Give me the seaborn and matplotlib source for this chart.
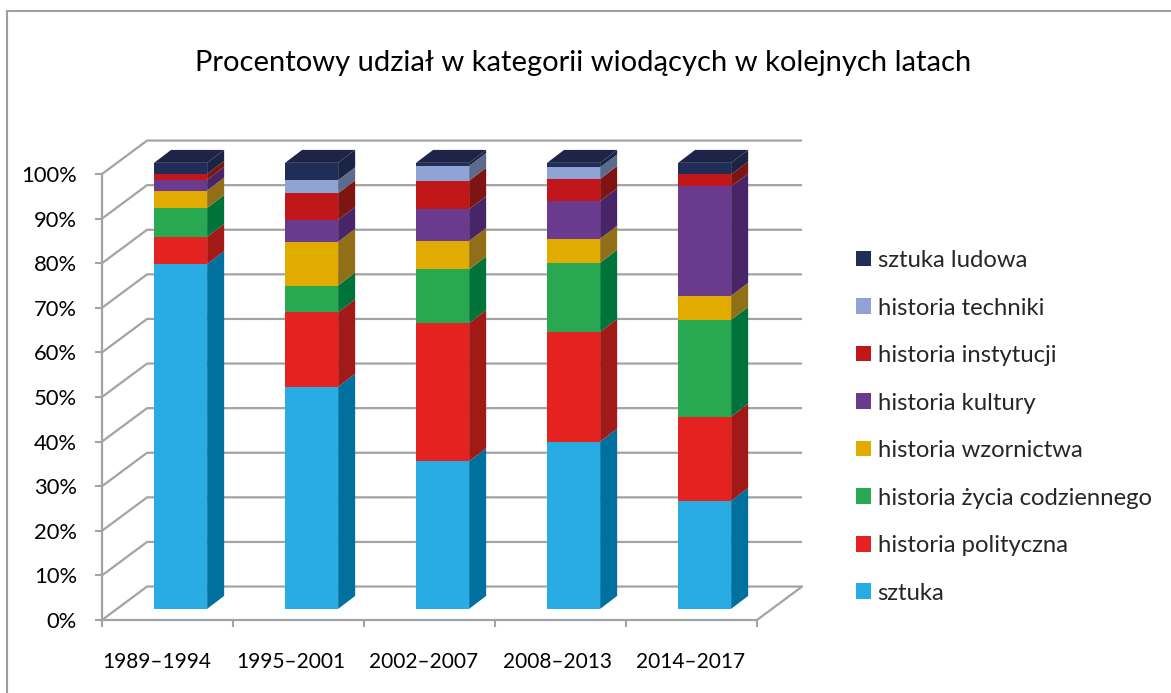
#### Import packages
import numpy as np
import pandas as pd
import matplotlib.pyplot as plt
from matplotlib.patches import Patch, Rectangle
import seaborn as sns

#### Data: share of leading categories (%) per period
periods = ['1989–1994', '1995–2001', '2002–2007', '2008–2013', '2014–2017']
categories = ['sztuka', 'historia polityczna', 'historia życia codziennego', 'historia wzornictwa',
              'historia kultury', 'historia instytucji', 'historia techniki', 'sztuka ludowa']
sztuka = [77.3, 49.8, 33.1, 37.5, 24.2]
polityczna = [6.1, 16.7, 31.0, 24.6, 18.9]
zycie_codzienne = [6.5, 6.0, 12.0, 15.5, 21.7]
wzornictwo = [3.9, 9.8, 6.4, 5.4, 5.4]
kultura = [2.4, 4.9, 7.1, 8.4, 24.5]
instytucje = [1.3, 6.0, 6.4, 5.0, 2.7]
technika = [0.0, 2.9, 3.3, 2.6, 0.0]
ludowa = [2.5, 3.9, 0.7, 1.0, 2.6]
ytick_values = [0, 10, 20, 30, 40, 50, 60, 70, 80, 90, 100]
ytick_labels = ['0%', '10%', '20%', '30%', '40%', '50%', '60%', '70%', '80%', '90%', '100%']
title = 'Procentowy udział w kategorii wiodących w kolejnych latach'

#### Colours (front face, side face, top face)
front_colors = ['#29ACE3', '#E42320', '#27A851', '#E2AB00', '#6A3A8E', '#C1161A', '#8FA3D4', '#202D57']
side_colors = ['#00719F', '#A21A17', '#00733A', '#906F17', '#472566', '#7F1512', '#5A6B8C', '#1C2443']
top_colors = ['#1A8FC0', '#C01E1B', '#1F8A44', '#B88B00', '#55307A', '#9E1215', '#7385AD', '#1E2447']
grid_color = '#a3a3a3'

#### 3D geometry (in data units)
BAR_W = 0.405      # bar width, category units
BX0, BY0 = 0.10, 2.5   # bar plane offset from the front plane
DDX, DDY = 0.13, 2.9   # bar depth
DX, DY = 0.344, 7.5    # floor / wall depth

values = np.array([sztuka, polityczna, zycie_codzienne, wzornictwo, kultura, instytucje, technika, ludowa])
cum = values.cumsum(axis=0)

sns.set_theme(style='white')
plt.rcParams['font.family'] = ['Lato', 'DejaVu Sans']

W, H = 1171, 693
fig = plt.figure(figsize=(W / 100, H / 100), dpi=100)
ax = fig.add_axes([102 / W, 73 / H, 655 / W, 446 / H])

#### Stacked front faces: cumulative bars drawn from the top category down
for k in range(len(categories) - 1, -1, -1):
    sns.barplot(x=periods, y=cum[k], color=front_colors[k], width=BAR_W, saturation=1,
                errorbar=None, linewidth=0, zorder=3, ax=ax)
for p in ax.patches:
    p.set_clip_on(False)

#### Side and top faces
for i in range(len(periods)):
    xr = i + BAR_W / 2
    xl = i - BAR_W / 2
    for k in range(len(categories)):
        yb = cum[k - 1][i] if k > 0 else 0.0
        yt = cum[k][i]
        if yt - yb <= 0:
            continue
        ax.fill([xr, xr + DDX, xr + DDX, xr], [yb, yb + DDY, yt + DDY, yt],
                color=side_colors[k], lw=0, zorder=3, clip_on=False)
    top = cum[-1][i]
    ktop = max(k for k in range(len(categories)) if values[k][i] > 0)
    ax.fill([xl, xl + DDX, xr + DDX, xr], [top, top + DDY, top + DDY, top],
            color=top_colors[ktop], lw=0, zorder=3, clip_on=False)

#### Walls: left wall diagonals + back wall gridlines, floor edge
x0, x1 = -0.5 - BX0, len(periods) - 0.5 - BX0
for v in ytick_values:
    y = v - BY0
    ax.plot([x0, x0 + DX, x1 + DX], [y, y + DY, y + DY], color=grid_color, lw=1.6,
            zorder=1, clip_on=False, solid_capstyle='butt')
ax.plot([x1, x1 + DX], [-BY0, -BY0 + DY], color=grid_color, lw=1.6, zorder=1, clip_on=False)

ax.set_xlim(x0, x1)
ax.set_ylim(-BY0, 100 - BY0)
ax.set_xlabel('')
ax.set_ylabel('')
for s in ['top', 'right']:
    ax.spines[s].set_visible(False)
for s in ['left', 'bottom']:
    ax.spines[s].set_color(grid_color)
    ax.spines[s].set_linewidth(1.6)

ax.set_yticks([v - BY0 for v in ytick_values], ytick_labels)
ax.tick_params(axis='y', left=True, length=5, width=1.5, color=grid_color, pad=13,
               labelsize=15.8, labelcolor='black')
ax.set_xticks(np.arange(len(periods) + 1) - 0.5 - BX0, [''] * (len(periods) + 1))
# labels spread slightly wider than the categories (perspective of the original)
ax.set_xticks(np.arange(len(periods)) * 1.019 - 0.18, periods, minor=True)
ax.tick_params(axis='x', which='major', bottom=True, length=5, width=1.5, color=grid_color)
ax.tick_params(axis='x', which='minor', bottom=True, length=0, pad=23, labelsize=15, labelcolor='black')

#### Title, legend, frame
fig.text(583.5 / W, 1 - 63 / H, title, ha='center', va='center', fontsize=21, color='black')

handles = [Patch(facecolor=front_colors[k], edgecolor='none') for k in range(len(categories) - 1, -1, -1)]
fig.legend(handles, categories[::-1], loc='upper left', bbox_to_anchor=(856 / W, 1 - 250 / H),
           frameon=False, fontsize=17.2, handlelength=0.63, handleheight=0.63, handletextpad=0.27,
           labelspacing=1.11, borderpad=0, borderaxespad=0)

fig.add_artist(Rectangle((7 / W, -0.1), 1.2, 1.1 - 11 / H, transform=fig.transFigure,
                         fill=False, edgecolor='#a0a0a0', lw=1.5))

plt.savefig('out.png', dpi=100)
